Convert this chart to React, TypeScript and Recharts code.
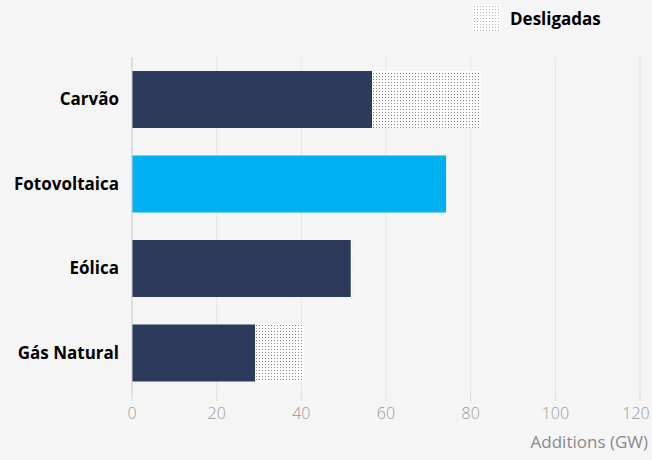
import { BarChart, Bar, XAxis, YAxis, CartesianGrid, Cell, Label } from 'recharts';

const categories = ['Carvão', 'Fotovoltaica', 'Eólica', 'Gás Natural'];
const additions = [56.7, 74.2, 51.7, 29.1];
const retired = [25.7, 0, 0.3, 11.5];
const xTicks = [0, 20, 40, 60, 80, 100, 120];

const data = categories.map((name, i) => ({ name, additions: additions[i], retired: retired[i] }));

const DARK = '#2c3b5b';
const CYAN = '#00b0f0';

// last label sits on the right edge, nudge it in so it isn't clipped
const XTick = (props: any) => {
  const { x, y, payload } = props;
  const shift = payload.value === 120 ? -4 : 0;
  return (
    <text x={x + shift} y={y} dy={12} textAnchor="middle" fill="#9a9a9a" fontSize={16} fontWeight={300} fontFamily='"Open Sans", sans-serif'>
      {payload.value}
    </text>
  );
};

export default function App() {
  return (
    <div style={{ position: 'absolute', left: 0, top: 0, width: 652, height: 460, background: '#f5f5f5' }}>
      <svg width="0" height="0" style={{ position: 'absolute' }}>
        <defs>
          <pattern id="dots" width="3" height="3" patternUnits="userSpaceOnUse">
            <rect width="3" height="3" fill="#ffffff" />
            <rect x="1" y="1" width="1" height="1" fill="#8a8a8a" />
          </pattern>
          <pattern id="dotsLegend" width="3" height="3" patternUnits="userSpaceOnUse">
            <rect width="3" height="3" fill="#ffffff" />
            <rect x="1" y="1" width="1" height="1" fill="#b5b5b5" />
          </pattern>
        </defs>
      </svg>
      <div style={{ position: 'absolute', left: 473, top: 5, display: 'flex', alignItems: 'center' }}>
        <svg width="28" height="26"><rect width="28" height="26" fill="url(#dotsLegend)" /></svg>
        <span style={{ marginLeft: 9, fontFamily: '"Open Sans", sans-serif', fontWeight: 700, fontSize: 17, color: '#000' }}>Desligadas</span>
      </div>
      <BarChart
        width={652}
        height={460}
        data={data}
        layout="vertical"
        margin={{ top: 57, right: 12, bottom: 0, left: 8 }}
        barSize={57}
      >
        <CartesianGrid horizontal={false} vertical stroke="#e4e4e4" />
        <XAxis
          type="number"
          domain={[0, 120]}
          ticks={xTicks}
          axisLine={false}
          tickLine={{ stroke: '#dcdcdc' }}
          tickSize={6}
          tickMargin={6}
          height={65}
          tick={<XTick />}
        >
          <Label
            value="Additions (GW)"
            position="insideBottomRight"
            offset={12}
            dx={20}
            style={{ fill: '#8a8a8a', fontSize: 17, fontFamily: '"Open Sans", sans-serif' }}
          />
        </XAxis>
        <YAxis
          type="category"
          dataKey="name"
          width={124}
          axisLine={{ stroke: '#cfcfcf' }}
          tickLine={false}
          tickSize={6}
          tickMargin={7}
          tick={{ fill: '#000', fontSize: 17, fontWeight: 700, fontFamily: '"Open Sans", sans-serif' }}
        />
        <Bar dataKey="additions" stackId="a" isAnimationActive={false}>
          {data.map((d, i) => (
            <Cell key={i} fill={d.name === 'Fotovoltaica' ? CYAN : DARK} />
          ))}
        </Bar>
        <Bar dataKey="retired" stackId="a" fill="url(#dots)" isAnimationActive={false} />
      </BarChart>
    </div>
  );
}
